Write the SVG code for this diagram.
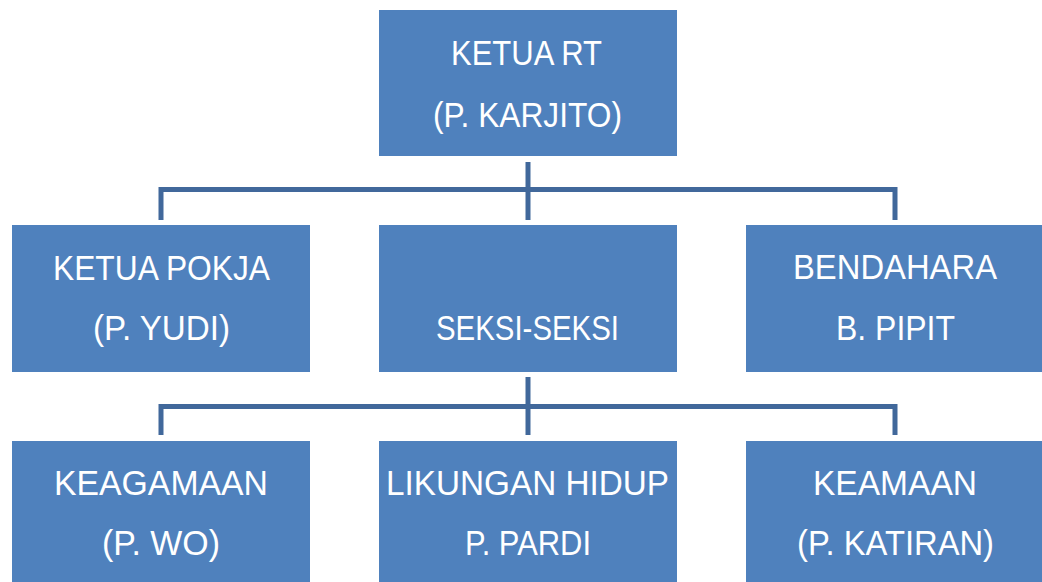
<svg xmlns="http://www.w3.org/2000/svg" width="1042" height="582" viewBox="0 0 1042 582">
<style>
.box{fill:#4F81BD;}
.t{fill:#FFFFFF;font-family:"Liberation Sans","Open Sans",Arial,sans-serif;font-size:35.5px;text-anchor:start;}
.c{fill:none;stroke:#41689B;stroke-width:5;stroke-linejoin:miter;}
</style>
<rect width="1042" height="582" fill="#FFFFFF"/>
<g id="connectors">
<path class="c" d="M161,220 V189.5 H895 V220"/>
<path class="c" d="M528,162 V220"/>
<path class="c" d="M161,435 V406.5 H895 V435"/>
<path class="c" d="M528,377 V435"/>
</g>
<g id="ketua-rt">
<rect class="box" x="379" y="10" width="298" height="146"/>
<text class="t" x="451" y="65" textLength="151" lengthAdjust="spacingAndGlyphs">KETUA RT</text>
<text class="t" x="433" y="126.5" textLength="189" lengthAdjust="spacingAndGlyphs">(P. KARJITO)</text>
</g>
<g id="ketua-pokja">
<rect class="box" x="12" y="225" width="298" height="147"/>
<text class="t" x="53" y="280" textLength="217" lengthAdjust="spacingAndGlyphs">KETUA POKJA</text>
<text class="t" x="93" y="340" textLength="137" lengthAdjust="spacingAndGlyphs">(P. YUDI)</text>
</g>
<g id="seksi-seksi">
<rect class="box" x="379" y="225" width="298" height="147"/>
<text class="t" x="436" y="340" textLength="183" lengthAdjust="spacingAndGlyphs">SEKSI-SEKSI</text>
</g>
<g id="bendahara">
<rect class="box" x="746" y="225" width="298" height="147"/>
<text class="t" x="793" y="279" textLength="204" lengthAdjust="spacingAndGlyphs">BENDAHARA</text>
<text class="t" x="836" y="340" textLength="119" lengthAdjust="spacingAndGlyphs">B. PIPIT</text>
</g>
<g id="keagamaan">
<rect class="box" x="12" y="441" width="298" height="145"/>
<text class="t" x="54" y="495" textLength="214" lengthAdjust="spacingAndGlyphs">KEAGAMAAN</text>
<text class="t" x="102" y="555" textLength="118" lengthAdjust="spacingAndGlyphs">(P. WO)</text>
</g>
<g id="lingkungan-hidup">
<rect class="box" x="379" y="441" width="298" height="145"/>
<text class="t" x="386" y="495" textLength="283" lengthAdjust="spacingAndGlyphs">LIKUNGAN HIDUP</text>
<text class="t" x="465" y="555" textLength="126" lengthAdjust="spacingAndGlyphs">P. PARDI</text>
</g>
<g id="keamaan">
<rect class="box" x="746" y="441" width="298" height="145"/>
<text class="t" x="813" y="495" textLength="164" lengthAdjust="spacingAndGlyphs">KEAMAAN</text>
<text class="t" x="797" y="555" textLength="197" lengthAdjust="spacingAndGlyphs">(P. KATIRAN)</text>
</g>
</svg>
